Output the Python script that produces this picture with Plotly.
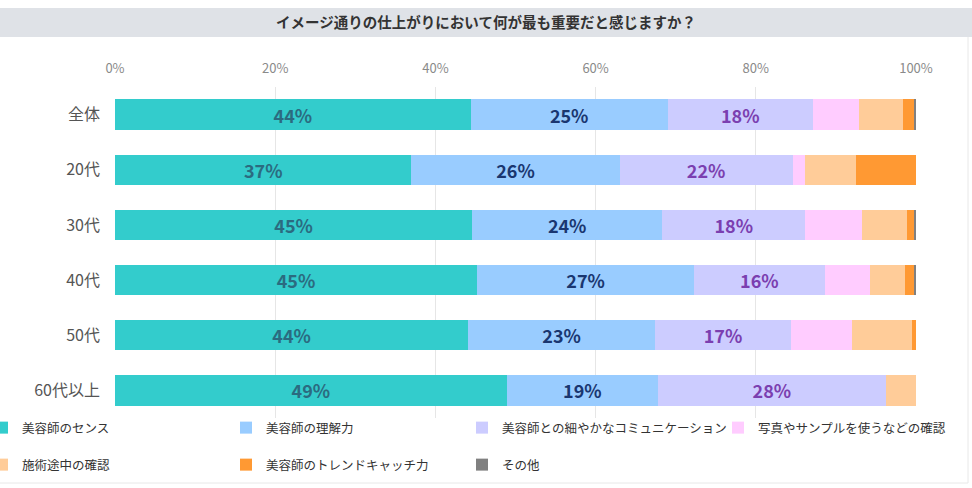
import plotly.graph_objects as go

categories = ["全体", "20代", "30代", "40代", "50代", "60代以上"]
series_names = ["美容師のセンス", "美容師の理解力", "美容師との細やかなコミュニケーション",
                "写真やサンプルを使うなどの確認", "施術途中の確認", "美容師のトレンドキャッチ力", "その他"]
sense =        [44.4, 37.0, 44.6, 45.2, 44.1, 48.9]
understand =   [24.6, 26.0, 23.7, 27.1, 23.3, 18.9]
communicate =  [18.1, 21.6, 17.9, 16.3, 17.0, 28.4]
photo_check =  [5.8, 1.6, 7.1, 5.6, 7.6, 0.0]
mid_check =    [5.5, 6.3, 5.6, 4.4, 7.5, 3.8]
trend =        [1.4, 7.5, 0.8, 1.1, 0.5, 0.0]
other =        [0.2, 0.0, 0.3, 0.3, 0.0, 0.0]
tick_vals = [0, 20, 40, 60, 80, 100]
tick_text = ["0%", "20%", "40%", "60%", "80%", "100%"]

series_values = [sense, understand, communicate, photo_check, mid_check, trend, other]
colors = ["#33cccc", "#99ccff", "#ccccff", "#ffccff", "#ffcc99", "#ff9933", "#808080"]
label_colors = ["#2b6b80", "#1a3670", "#7b3fb0", None, None, None, None]

FONT = "Noto Sans CJK JP"
L, R, T, B = 115, 56, 87, 70
PW = 972 - L - R
PH = 488 - T - B

def px_x(p):
    return (p - L) / PW

def px_y(p):
    return (488 - B - p) / PH

# legend slot positions (pixels): left edge of legend box, row centre
legend_slots = [(-18, 428), (226, 428), (462, 428), (718, 428),
                (-18, 465), (226, 465), (462, 465)]

fig = go.Figure()
legend_layout = {}
for i, (name, vals) in enumerate(zip(series_names, series_values)):
    if label_colors[i]:
        kw = dict(texttemplate="%{x:.0f}%", textposition="inside", insidetextanchor="middle",
                  textfont=dict(family=FONT, size=18, color=label_colors[i], weight="bold"),
                  constraintext="none")
    else:
        kw = dict(texttemplate="", textposition="none")
    lname = "legend" if i == 0 else f"legend{i + 1}"
    fig.add_trace(go.Bar(
        y=categories, x=vals, name=name, orientation="h",
        marker=dict(color=colors[i], line=dict(width=0)),
        width=0.55, hoverinfo="skip", legend=lname,
        **kw))
    lx, ly = legend_slots[i]
    legend_layout[lname] = dict(
        orientation="h", xanchor="left", yanchor="middle",
        x=px_x(lx), y=px_y(ly),
        font=dict(family=FONT, size=12.5, color="#333333"),
        bgcolor="rgba(0,0,0,0)", itemclick=False, itemdoubleclick=False)

# title band
fig.add_shape(type="rect", xref="paper", yref="paper", x0=px_x(0), x1=px_x(972),
              y0=px_y(37), y1=px_y(8),
              fillcolor="#dfe2e7", line=dict(width=0), layer="below")
# faint frame (right and bottom edges)
fig.add_shape(type="line", xref="paper", yref="paper", x0=px_x(968), x1=px_x(968),
              y0=px_y(37), y1=px_y(483), line=dict(color="#e8e8e8", width=1))
fig.add_shape(type="line", xref="paper", yref="paper", x0=px_x(0), x1=px_x(968),
              y0=px_y(483), y1=px_y(483), line=dict(color="#e8e8e8", width=1))

fig.update_layout(
    width=972, height=488,
    barmode="stack",
    paper_bgcolor="white", plot_bgcolor="white",
    margin=dict(l=L, r=R, t=T, b=B, autoexpand=False),
    font=dict(family=FONT),
    title=dict(text="<b>イメージ通りの仕上がりにおいて何が最も重要だと感じますか？</b>",
               x=0.5, xref="container", xanchor="center",
               y=1 - 22.5 / 488, yref="container", yanchor="middle",
               font=dict(family=FONT, size=14.5, color="#333333")),
    xaxis=dict(side="top", range=[0, 100], tickmode="array", tickvals=tick_vals, ticktext=tick_text,
               showgrid=True, gridcolor="#e6e6e6", gridwidth=1, zeroline=False,
               tickfont=dict(family=FONT, size=13, color="#8a8a8a"),
               ticklabelstandoff=10, showline=False, fixedrange=True),
    yaxis=dict(autorange="reversed", categoryorder="array", categoryarray=categories,
               tickfont=dict(family=FONT, size=16, color="#555555"),
               ticklabelstandoff=14, showgrid=False, zeroline=False, fixedrange=True),
    showlegend=True,
    **legend_layout,
)

fig.write_html("out.html", config={"displayModeBar": False},
               post_script="document.body.style.margin='0';")
